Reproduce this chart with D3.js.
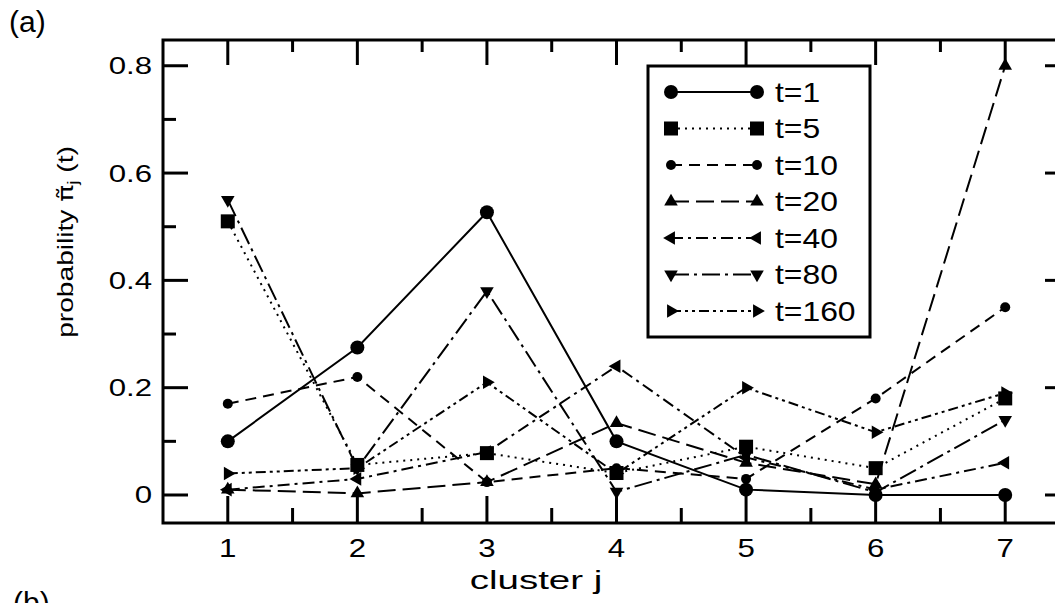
<!DOCTYPE html>
<html>
<head>
<meta charset="utf-8">
<script src="https://cdn.jsdelivr.net/npm/d3@7"></script>
<style>
  body { margin: 0; background: #fff; }
  svg { display: block; font-family: "Liberation Sans", Arial, sans-serif; }
</style>
</head>
<body>
<svg width="1055" height="603"></svg>
<script>
// clusters on the x axis
const clusters = [1, 2, 3, 4, 5, 6, 7];

// probability per cluster
const t1   = [0.10, 0.275, 0.527, 0.10, 0.01, 0.00, 0.00];
const t5   = [0.51, 0.056, 0.078, 0.041, 0.09, 0.05, 0.18];
const t10  = [0.17, 0.22, 0.024, 0.05, 0.03, 0.18, 0.35];
const t20  = [0.01, 0.003, 0.024, 0.134, 0.06, 0.02, 0.80];
const t40  = [0.01, 0.03, 0.08, 0.24, 0.07, 0.01, 0.06];
const t80  = [0.55, 0.05, 0.38, 0.006, 0.075, 0.005, 0.14];
const t160 = [0.04, 0.05, 0.21, 0.04, 0.20, 0.117, 0.19];

const seriesNames = ["t=1", "t=5", "t=10", "t=20", "t=40", "t=80", "t=160"];
const yTicks = [0, 0.2, 0.4, 0.6, 0.8];

const series = [
    { name: seriesNames[0], values: t1,   dash: null,              marker: "circle" },
    { name: seriesNames[1], values: t5,   dash: "2,5",             marker: "square" },
    { name: seriesNames[2], values: t10,  dash: "11,7",            marker: "dot" },
    { name: seriesNames[3], values: t20,  dash: "18,7",            marker: "up" },
    { name: seriesNames[4], values: t40,  dash: "12,5,3,5",        marker: "left" },
    { name: seriesNames[5], values: t80,  dash: "18,5,3,5",        marker: "down" },
    { name: seriesNames[6], values: t160, dash: "10,4,3,4,3,4",    marker: "right" }
];

const svg = d3.select("svg");
const plotL = 163, plotR = 1070, plotT = 40, plotB = 523;

const x = d3.scaleLinear().domain([0.5, 7.5]).range([plotL, plotR]);
const y = d3.scaleLinear().domain([-0.0522, 0.848]).range([plotB, plotT]);

// text that is a bit wider than the font, like the scanned original
function label(parent, px, py, txt, size, sx, anchor) {
    return parent.append("g")
        .attr("transform", `translate(${px},${py}) scale(${sx},1)`)
        .append("text")
        .attr("font-size", size)
        .attr("text-anchor", anchor || "start")
        .text(txt);
}

// frame ticks (all pointing inward)
const g = svg.append("g");
const majX = clusters, minX = d3.range(1.5, 7.5, 1);
const majY = yTicks, minY = [0.1, 0.3, 0.5, 0.7];

majX.forEach(v => {
    g.append("line").attr("x1", x(v)).attr("x2", x(v)).attr("y1", plotB).attr("y2", plotB - 27);
    g.append("line").attr("x1", x(v)).attr("x2", x(v)).attr("y1", plotT).attr("y2", plotT + 25);
});
minX.forEach(v => {
    g.append("line").attr("x1", x(v)).attr("x2", x(v)).attr("y1", plotB).attr("y2", plotB - 15);
    g.append("line").attr("x1", x(v)).attr("x2", x(v)).attr("y1", plotT).attr("y2", plotT + 12);
});
majY.forEach(v => {
    g.append("line").attr("x1", plotL).attr("x2", plotL + 25).attr("y1", y(v)).attr("y2", y(v));
    g.append("line").attr("x1", plotR).attr("x2", plotR - 25).attr("y1", y(v)).attr("y2", y(v));
});
minY.forEach(v => {
    g.append("line").attr("x1", plotL).attr("x2", plotL + 13).attr("y1", y(v)).attr("y2", y(v));
    g.append("line").attr("x1", plotR).attr("x2", plotR - 13).attr("y1", y(v)).attr("y2", y(v));
});
g.selectAll("line").attr("stroke", "#000").attr("stroke-width", 3);

g.append("rect")
    .attr("x", plotL).attr("y", plotT)
    .attr("width", plotR - plotL).attr("height", plotB - plotT)
    .attr("fill", "none").attr("stroke", "#000").attr("stroke-width", 3);

// tick labels
const tl = svg.append("g");
clusters.forEach(d => label(tl, x(d), 557, d, 25, 1.25, "middle"));
yTicks.forEach(d => label(tl, 152, y(d) + 8.5, d === 0 ? "0" : d.toFixed(1), 24, 1.3, "end"));

// axis titles
label(svg, 536, 589, "cluster j", 26, 1.48, "middle");

const ylg = svg.append("g").attr("transform", "translate(73,242) rotate(-90) scale(1.28,1)");
const yl = ylg.append("text").attr("text-anchor", "middle").attr("font-size", 22);
yl.append("tspan").text("probability ");
yl.append("tspan").attr("font-family", "DejaVu Sans").text("\u03C0\u0303");
yl.append("tspan").attr("font-size", 15).attr("dy", 5).text("j");
yl.append("tspan").attr("dy", -5).text(" (t)");

label(svg, 9, 32, "(a)", 30, 1, "start");
label(svg, 13, 613, "(b)", 30, 1, "start");

// markers
function marker(sel, type) {
    if (type === "circle") return sel.append("circle").attr("r", 7);
    if (type === "dot") return sel.append("circle").attr("r", 5);
    if (type === "square") return sel.append("rect").attr("x", -7).attr("y", -7).attr("width", 14).attr("height", 14);
    const rot = { up: 0, right: 90, down: 180, left: 270 }[type];
    return sel.append("path")
        .attr("d", d3.symbol().type(d3.symbolTriangle).size(80)())
        .attr("transform", `rotate(${rot})`);
}

const line = d3.line().x((d, i) => x(clusters[i])).y(d => y(d));

const plot = svg.append("g");
series.forEach(s => {
    plot.append("path")
        .attr("d", line(s.values))
        .attr("fill", "none")
        .attr("stroke", "#000")
        .attr("stroke-width", 2)
        .attr("stroke-dasharray", s.dash);
    s.values.forEach((v, i) => {
        const mg = plot.append("g").attr("transform", `translate(${x(clusters[i])},${y(v)})`);
        marker(mg, s.marker).attr("fill", "#000");
    });
});

// legend
const lg = svg.append("g");
lg.append("rect")
    .attr("x", 648).attr("y", 66).attr("width", 222).attr("height", 271)
    .attr("fill", "#fff").attr("stroke", "#000").attr("stroke-width", 3);
series.forEach((s, i) => {
    const ly = 92 + i * 36.5;
    lg.append("line")
        .attr("x1", 671).attr("x2", 757).attr("y1", ly).attr("y2", ly)
        .attr("stroke", "#000").attr("stroke-width", 2)
        .attr("stroke-dasharray", s.dash);
    [671, 757].forEach(px => {
        const mg = lg.append("g").attr("transform", `translate(${px},${ly})`);
        marker(mg, s.marker).attr("fill", "#000");
    });
    label(lg, 775, ly + 9.5, s.name, 27, 1.18, "start");
});
</script>
</body>
</html>
